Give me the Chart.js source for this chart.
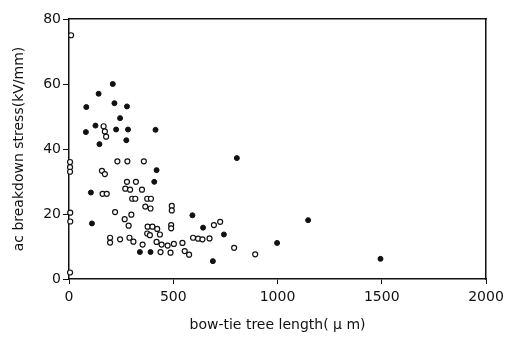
<!DOCTYPE html>
<html>
<head>
<meta charset="utf-8">
<script src="https://cdn.jsdelivr.net/npm/chart.js@4/dist/chart.umd.min.js"></script>
<style>
  body { margin: 0; background: #fff; }
  #wrap { width: 518px; height: 337px; }
</style>
</head>
<body>
<div id="wrap"><canvas id="chart" width="518" height="337"></canvas></div>
<script>
// solid dots (tree length in um, breakdown stress in kV/mm)
const filledX = [210, 142, 83, 218, 278, 245, 81, 127, 226, 283, 415, 146, 275,
  805, 420, 409, 105, 110, 592, 643, 743, 690, 998, 1147, 1494, 340, 391];
const filledY = [60, 57, 52.9, 54.1, 53.1, 49.5, 45.2, 47.2, 46, 46, 45.9, 41.5, 42.7,
  37.2, 33.5, 29.9, 26.6, 17.1, 19.6, 15.8, 13.7, 5.5, 11.1, 18.1, 6.2, 8.3, 8.3];

// open circles
const openX = [10, 166, 172, 178, 5, 5, 5, 232, 280, 359,
  158, 172, 278, 321, 161, 181, 270, 293, 350,
  303, 318, 375, 393, 366, 391, 493, 493,
  6, 6, 221, 299, 267, 286,
  377, 400, 423, 490, 490, 695, 725,
  375, 388, 436, 197, 197, 245, 290, 309, 353,
  420, 444, 473, 503, 544, 595, 619, 640, 674,
  439, 487, 555, 576, 792, 893, 5];
const openY = [75, 47, 45.4, 43.8, 36, 34.4, 33, 36.2, 36.2, 36.2,
  33.3, 32.3, 29.9, 29.9, 26.2, 26.2, 27.8, 27.5, 27.5,
  24.7, 24.7, 24.7, 24.7, 22.3, 21.7, 22.5, 21.1,
  20.4, 17.7, 20.6, 19.8, 18.4, 16.4,
  16.1, 16.1, 15.4, 16.6, 15.6, 16.6, 17.6,
  14, 13.5, 13.7, 12.7, 11.2, 12.2, 12.7, 11.5, 10.6,
  11.4, 10.6, 10.3, 10.8, 11.1, 12.7, 12.4, 12.2, 12.5,
  8.3, 8.1, 8.6, 7.5, 9.6, 7.6, 2];

const xTicks = [0, 500, 1000, 1500, 2000];
const yTicks = [0, 20, 40, 60, 80];

const toPoints = (xs, ys) => xs.map((x, i) => ({ x: x, y: ys[i] }));

const ink = "#111";
const labelFont = { family: "DejaVu Sans", size: 14 };

new Chart(document.getElementById("chart").getContext("2d"), {
  type: "scatter",
  data: {
    datasets: [
      {
        label: "open",
        data: toPoints(openX, openY),
        pointRadius: 2.5,
        pointBorderWidth: 1.2,
        borderColor: ink,
        backgroundColor: "#fff",
        clip: false,
      },
      {
        label: "filled",
        data: toPoints(filledX, filledY),
        pointRadius: 2.5,
        pointBorderWidth: 1,
        borderColor: ink,
        backgroundColor: ink,
        clip: false,
      },
    ],
  },
  options: {
    responsive: false,
    animation: false,
    layout: { padding: 0 },
    plugins: { legend: { display: false }, tooltip: { enabled: false } },
    scales: {
      x: {
        type: "linear",
        min: 0,
        max: 2000,
        afterBuildTicks: (s) => { s.ticks = xTicks.map((v) => ({ value: v })); },
        afterFit: (s) => { s.height = 58; },
        grid: { drawOnChartArea: false, color: ink, tickLength: 5 },
        border: { color: ink, width: 1.5 },
        ticks: {
          color: ink,
          font: labelFont,
          padding: 5,
          maxRotation: 0,
          callback: (v) => String(v),
        },
        title: {
          display: true,
          text: "bow-tie tree length( μ m)",
          color: ink,
          font: labelFont,
          padding: { top: 0, bottom: 3 },
        },
      },
      y: {
        type: "linear",
        min: 0,
        max: 80,
        afterBuildTicks: (s) => { s.ticks = yTicks.map((v) => ({ value: v })); },
        afterFit: (s) => { s.width = 69; },
        grid: { drawOnChartArea: false, color: ink, tickLength: 6 },
        border: { color: ink, width: 1.5 },
        ticks: { color: ink, font: labelFont, padding: 2, callback: (v) => String(v) },
        title: {
          display: true,
          text: "ac breakdown stress(kV/mm)",
          color: ink,
          font: labelFont,
          padding: { top: 11, bottom: 0 },
        },
      },
      x2: {
        type: "linear",
        position: "top",
        min: 0,
        max: 2000,
        afterFit: (s) => { s.height = 19; },
        grid: { drawOnChartArea: false, drawTicks: false },
        border: { color: ink, width: 1.5 },
        ticks: { display: false },
      },
      y2: {
        type: "linear",
        position: "right",
        min: 0,
        max: 80,
        afterFit: (s) => { s.width = 32; },
        grid: { drawOnChartArea: false, drawTicks: false },
        border: { color: ink, width: 1.5 },
        ticks: { display: false },
      },
    },
  },
});
</script>
</body>
</html>
